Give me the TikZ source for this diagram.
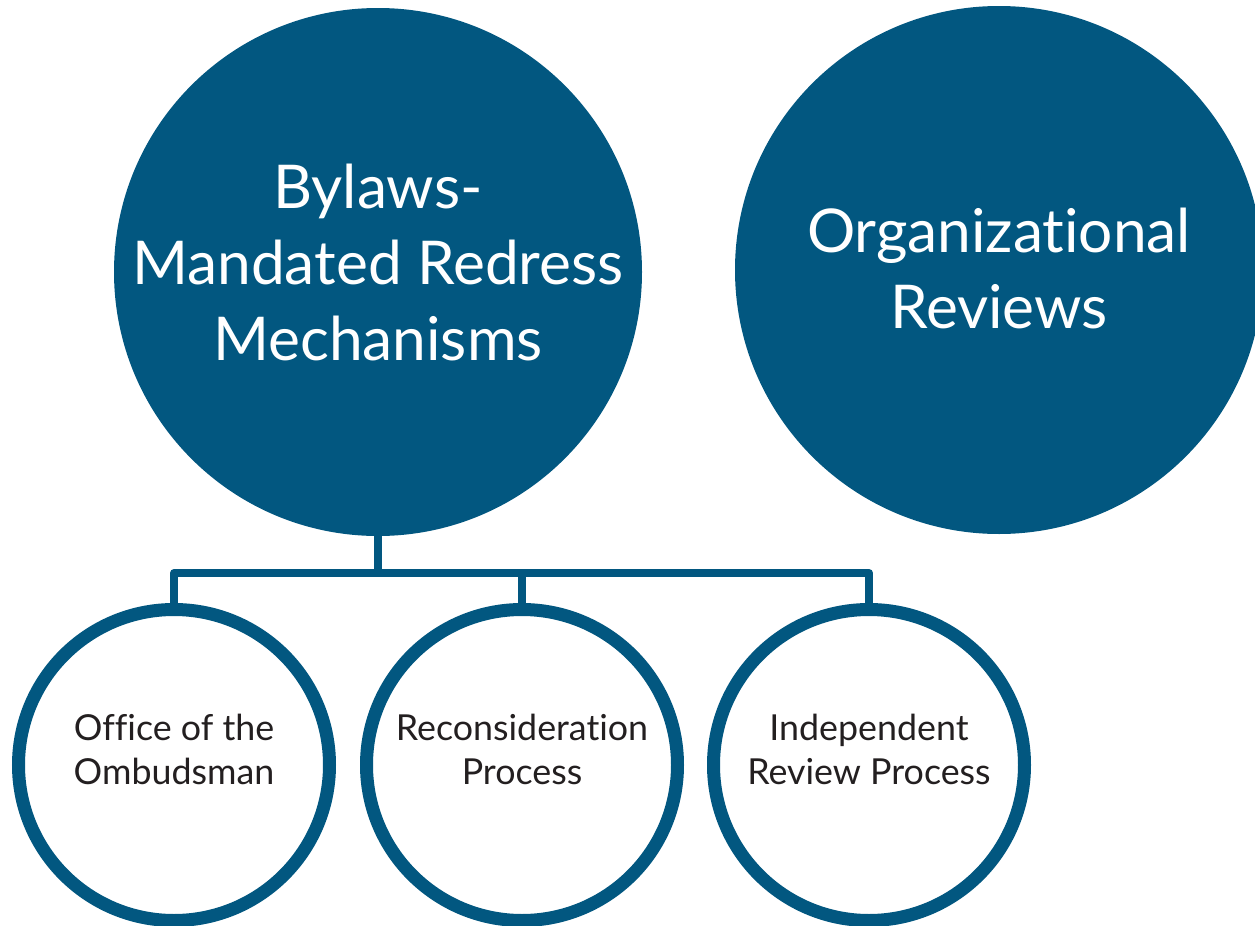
\documentclass[tikz,border=0pt]{standalone}
\usepackage{fontspec}
\setmainfont{Lato}[Ligatures=CommonOff]
\usetikzlibrary{positioning}
\definecolor{icannblue}{RGB}{2,87,128}
\definecolor{inkgray}{RGB}{35,31,32}

\begin{document}
\begin{tikzpicture}[
    x=0.5pt, y=-0.5pt,
    big-circ/.style={circle, fill=icannblue, minimum size=264pt, inner sep=0pt},
    big-txt/.style={text=white, align=center, font=\fontsize{30.2}{38}\selectfont},
    small-circ/.style={circle, draw=icannblue, line width=6.5pt, fill=white, minimum size=155.5pt, inner sep=0pt},
    small-txt/.style={text=inkgray, align=center, font=\fontsize{17.9}{22}\selectfont, yshift=8pt},
    link/.style={draw=icannblue, line width=4pt, line join=round}
  ]

  \useasboundingbox (0,0) rectangle (1255,926);

  \node[big-circ, label={[big-txt, yshift=5pt]center:{Bylaws-\\Mandated Redress\\Mechanisms}}] (bylaws) at (378,272) {};
  \node[big-circ, label={[big-txt, yshift=1pt]center:{Organizational\\Reviews}}] (orgrev) at (999,270) {};

  \node[small-circ, label={[small-txt]center:{Office of the\\Ombudsman}}] (ombud) at (174,765) {};
  \node[small-circ, label={[small-txt]center:{Reconsideration\\Process}}] (recon) at (522,765) {};
  \node[small-circ, label={[small-txt]center:{Independent\\Review Process}}] (indep) at (869,765) {};

  \coordinate (bar) at (378,573);

  \draw[link] (bylaws.south) -- (bar);
  \draw[link] (ombud.north) |- (bar) -| (indep.north);
  \draw[link] (recon.north) -- (recon.north |- bar);

\end{tikzpicture}
\end{document}
